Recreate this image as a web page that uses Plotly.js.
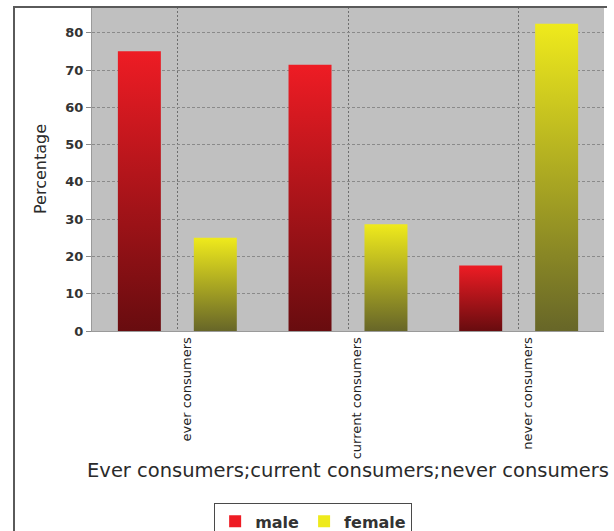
<!DOCTYPE html>
<html>
<head>
<meta charset="utf-8">
<script src="https://cdn.plot.ly/plotly-3.0.1.min.js"></script>
<style>
  html, body { margin: 0; padding: 0; background: #ffffff; }
  #wrap { position: relative; width: 614px; height: 531px; overflow: hidden; }
  #chart { width: 614px; height: 531px; }
  #frame {
    position: absolute; left: 13px; top: 6px; width: 592px; height: 540px;
    border-left: 2px solid #5a5a5a; border-top: 2px solid #5a5a5a;
    pointer-events: none;
  }
</style>
</head>
<body>
<div id="wrap">
  <div id="chart"></div>
  <div id="frame"></div>
</div>
<script>
// Consumption groups and the share (%) of each sex in every group
const categories = ['ever consumers', 'current consumers', 'never consumers'];
const maleValues = [75, 71.4, 17.6];
const femaleValues = [25, 28.6, 82.4];
const seriesNames = ['male', 'female'];
const xAxisTitle = 'Ever consumers;current consumers;never consumers';
const yAxisTitle = 'Percentage';

// Vertical fills: bright at the top of each bar, dark at its base
const barShades = [
  { id: 'shadeMale', solid: '#ee1c24', top: '#ee1c24', bottom: '#680c0f' },
  { id: 'shadeFemale', solid: '#eeea1c', top: '#efea1c', bottom: '#676628' }
];

const traces = [
  {
    type: 'bar', name: seriesNames[0], x: categories, y: maleValues,
    marker: { color: barShades[0].solid, line: { width: 0 } },
    hoverinfo: 'x+y+name'
  },
  {
    type: 'bar', name: seriesNames[1], x: categories, y: femaleValues,
    marker: { color: barShades[1].solid, line: { width: 0 } },
    hoverinfo: 'x+y+name'
  }
];

const layout = {
  width: 614,
  height: 531,
  margin: { l: 92, r: 10, t: 7, b: 200 },
  paper_bgcolor: '#ffffff',
  plot_bgcolor: '#c0c0c0',
  barmode: 'group',
  bargap: 0.11,
  bargroupgap: 0.434,
  showlegend: true,
  font: { family: 'DejaVu Sans', color: '#2a2a2a' },
  xaxis: {
    type: 'category',
    range: [-0.5, 2.5],
    showgrid: true,
    gridcolor: '#6e6e6e',
    griddash: '2px,2px',
    gridwidth: 1,
    showline: true,
    linecolor: '#9a9a9a',
    linewidth: 1,
    ticks: '',
    tickangle: -90,
    ticklabelshift: 9,
    tickfont: { family: 'DejaVu Sans', size: 13, color: '#222222' },
    title: {
      text: xAxisTitle,
      font: { family: 'DejaVu Sans', size: 19.5, color: '#2a2a2a' },
      standoff: 3
    },
    fixedrange: true
  },
  yaxis: {
    range: [0, 86.9],
    tickvals: [0, 10, 20, 30, 40, 50, 60, 70, 80],
    showgrid: true,
    gridcolor: '#8a8a8a',
    griddash: '3px,2px',
    gridwidth: 1,
    zeroline: false,
    showline: true,
    linecolor: '#9a9a9a',
    linewidth: 1,
    ticks: 'outside',
    ticklen: 5,
    tickcolor: '#8a8a8a',
    tickfont: { family: 'DejaVu Sans', size: 13, color: '#333333', weight: 'bold' },
    title: {
      text: yAxisTitle,
      font: { family: 'DejaVu Sans', size: 16, color: '#2a2a2a' },
      standoff: 14
    },
    fixedrange: true
  },
  legend: {
    orientation: 'h',
    xref: 'container',
    yref: 'container',
    x: 0.51,
    xanchor: 'center',
    y: 0.052,
    yanchor: 'top',
    bgcolor: '#ffffff',
    bordercolor: '#4a4a4a',
    borderwidth: 1,
    font: { family: 'DejaVu Sans', size: 16, color: '#333333', weight: 'bold' },
    itemwidth: 30,
    tracegroupgap: 0
  }
};

function shadeBars(gd) {
  const NS = 'http://www.w3.org/2000/svg';
  const svg = gd.querySelector('.main-svg');
  if (!svg) return;
  let defs = svg.querySelector('defs');
  if (!defs) { defs = document.createElementNS(NS, 'defs'); svg.insertBefore(defs, svg.firstChild); }
  barShades.forEach(s => {
    if (defs.querySelector('#' + s.id)) return;
    const g = document.createElementNS(NS, 'linearGradient');
    g.setAttribute('id', s.id);
    g.setAttribute('x1', '0'); g.setAttribute('y1', '0');
    g.setAttribute('x2', '0'); g.setAttribute('y2', '1');
    [[0, s.top], [1, s.bottom]].forEach(([off, col]) => {
      const st = document.createElementNS(NS, 'stop');
      st.setAttribute('offset', String(off));
      st.setAttribute('stop-color', col);
      g.appendChild(st);
    });
    defs.appendChild(g);
  });
  gd.querySelectorAll('.barlayer .trace').forEach((t, i) => {
    const s = barShades[i];
    if (!s) return;
    t.querySelectorAll('.point path').forEach(p => { p.style.fill = 'url(#' + s.id + ')'; });
  });
}

const gd = document.getElementById('chart');
Plotly.newPlot(gd, traces, layout, { displayModeBar: false, staticPlot: true }).then(() => {
  shadeBars(gd);
  gd.on && gd.on('plotly_afterplot', () => shadeBars(gd));
});
</script>
</body>
</html>
